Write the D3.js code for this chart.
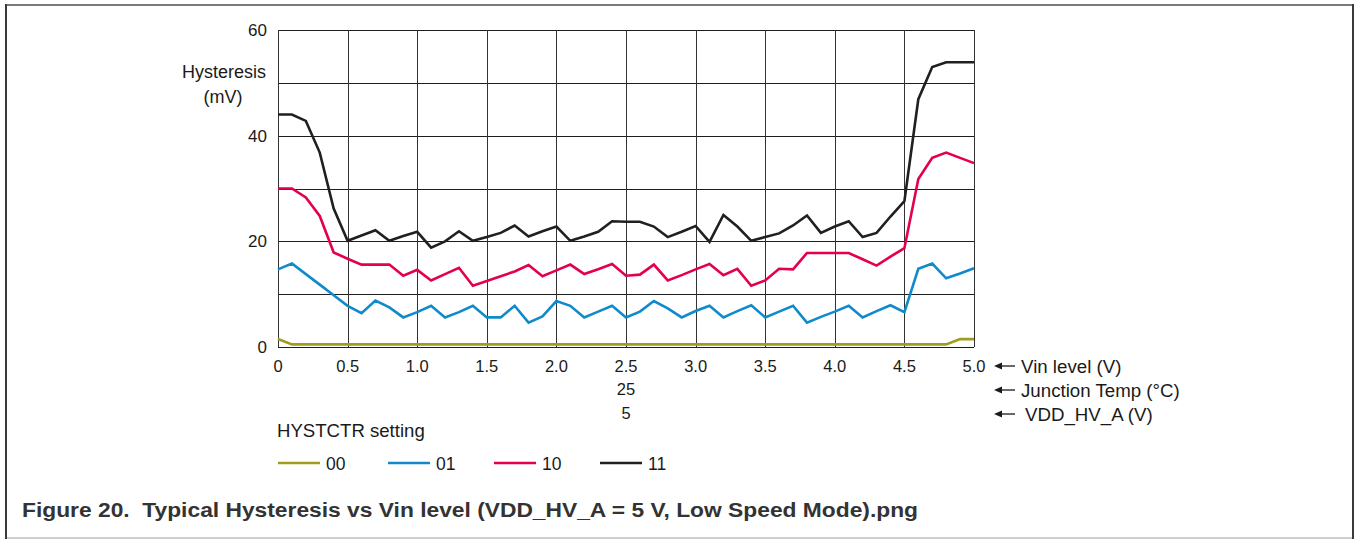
<!DOCTYPE html>
<html><head><meta charset="utf-8">
<script src="https://cdn.jsdelivr.net/npm/d3@7"></script>
<style>
html,body{margin:0;padding:0;background:#fff;}
svg{display:block;font-family:"Liberation Sans",Arial,sans-serif;}
text{white-space:pre;}
</style></head>
<body>
<svg id="c" width="1354" height="539"></svg>
<script>
const vin = d3.range(0, 51).map(i => +(i / 10).toFixed(1));
const xTicks = [0, 0.5, 1.0, 1.5, 2.0, 2.5, 3.0, 3.5, 4.0, 4.5, 5.0];
const xTickLabels = ["0", "0.5", "1.0", "1.5", "2.0", "2.5", "3.0", "3.5", "4.0", "4.5", "5.0"];
const yTicks = [0, 20, 40, 60];
const yGrid = [0, 10, 20, 30, 40, 50, 60];
const seriesNames = ["00", "01", "10", "11"];
const seriesColors = ["#a19c1b", "#0f8acb", "#e4004d", "#231f20"];
const hyst00 = [1.5, 0.5, 0.5, 0.5, 0.5, 0.5, 0.5, 0.5, 0.5, 0.5,
  0.5, 0.5, 0.5, 0.5, 0.5, 0.5, 0.5, 0.5, 0.5, 0.5,
  0.5, 0.5, 0.5, 0.5, 0.5, 0.5, 0.5, 0.5, 0.5, 0.5,
  0.5, 0.5, 0.5, 0.5, 0.5, 0.5, 0.5, 0.5, 0.5, 0.5,
  0.5, 0.5, 0.5, 0.5, 0.5, 0.5, 0.5, 0.5, 0.5, 1.5, 1.5];
const hyst01 = [14.7, 15.8, 13.8, 11.8, 9.8, 7.8, 6.4, 8.8, 7.5, 5.6,
  6.6, 7.8, 5.6, 6.6, 7.8, 5.6, 5.6, 7.8, 4.6, 5.8,
  8.7, 7.8, 5.6, 6.7, 7.8, 5.6, 6.7, 8.7, 7.3, 5.6,
  6.8, 7.8, 5.6, 6.8, 7.9, 5.6, 6.7, 7.8, 4.6, 5.7,
  6.7, 7.8, 5.6, 6.8, 7.9, 6.6, 14.8, 15.8, 13.0, 13.9, 14.9];
const hyst10 = [30, 30, 28.3, 24.8, 17.9, 16.7, 15.6, 15.6, 15.6, 13.5,
  14.6, 12.6, 13.8, 15.0, 11.6, 12.5, 13.4, 14.3, 15.5, 13.4,
  14.5, 15.6, 13.8, 14.7, 15.7, 13.5, 13.7, 15.6, 12.6, 13.6,
  14.7, 15.7, 13.6, 14.8, 11.6, 12.6, 14.8, 14.7, 17.8, 17.8,
  17.8, 17.8, 16.6, 15.4, 17.1, 18.7, 31.8, 35.8, 36.8, 35.8, 34.8];
const hyst11 = [44, 44, 42.8, 36.8, 26.2, 20.1, 21.1, 22.1, 20.1, 21.0,
  21.8, 18.8, 20.0, 21.9, 20.1, 20.8, 21.6, 23.0, 20.9, 21.9,
  22.8, 20.1, 20.9, 21.8, 23.8, 23.7, 23.7, 22.8, 20.8, 21.8,
  22.9, 19.9, 25.0, 22.8, 20.1, 20.8, 21.5, 23.0, 24.9, 21.6,
  22.8, 23.8, 20.8, 21.6, 24.7, 27.6, 46.9, 53.0, 53.9, 53.9, 53.9];
const seriesValues = [hyst00, hyst01, hyst10, hyst11];
const extraRows = [["25", "5"]];
const rightLabels = ["Vin level (V)", "Junction Temp (°C)", "VDD_HV_A (V)"];
const caption = "Figure 20.  Typical Hysteresis vs Vin level (VDD_HV_A = 5 V, Low Speed Mode).png";

const svg = d3.select("#c");
const L = 278, R = 974, T = 30, B = 347;
const x = d3.scaleLinear().domain([0, 5]).range([L, R]);
const y = d3.scaleLinear().domain([0, 60]).range([B, T]);
const INK = "#1a1a1a";

// frame
svg.append("rect").attr("x", 6).attr("y", 4).attr("width", 1346).attr("height", 2).attr("fill", "#7a7a7a");
svg.append("rect").attr("x", 6).attr("y", 537).attr("width", 1346).attr("height", 2).attr("fill", "#cfcfcf");
svg.append("rect").attr("x", 5).attr("y", 4).attr("width", 2).attr("height", 535).attr("fill", "#3a3a3a");
svg.append("rect").attr("x", 1352).attr("y", 4).attr("width", 2).attr("height", 535).attr("fill", "#3a3a3a");

// grid
const g = svg.append("g");
g.selectAll("line.h").data(yGrid).join("line")
  .attr("x1", L).attr("x2", R)
  .attr("y1", d => Math.round(y(d)) + 0.5).attr("y2", d => Math.round(y(d)) + 0.5)
  .attr("stroke", "#1e1e1e").attr("stroke-width", 1);
g.selectAll("line.v").data(xTicks).join("line")
  .attr("y1", T).attr("y2", B)
  .attr("x1", d => Math.round(x(d)) + 0.5).attr("x2", d => Math.round(x(d)) + 0.5)
  .attr("stroke", "#333").attr("stroke-width", 1);

// y labels
svg.selectAll("text.yt").data(yTicks).join("text")
  .attr("x", 267).attr("y", d => y(d)).attr("dy", "0.36em")
  .attr("text-anchor", "end").attr("font-size", 17).attr("fill", INK)
  .text(d => d);
svg.append("text").attr("x", 266).attr("y", 78).attr("text-anchor", "end")
  .attr("font-size", 18).attr("fill", INK).text("Hysteresis");
svg.append("text").attr("x", 223).attr("y", 103).attr("text-anchor", "middle")
  .attr("font-size", 18).attr("fill", INK).text("(mV)");

// x labels
svg.selectAll("text.xt").data(xTicks).join("text")
  .attr("x", d => x(d)).attr("y", 372).attr("text-anchor", "middle")
  .attr("font-size", 16.5).attr("fill", INK)
  .text((d, i) => xTickLabels[i]);
svg.append("text").attr("x", x(2.5)).attr("y", 395).attr("text-anchor", "middle")
  .attr("font-size", 16.5).attr("fill", INK).text(extraRows[0][0]);
svg.append("text").attr("x", x(2.5)).attr("y", 419).attr("text-anchor", "middle")
  .attr("font-size", 16.5).attr("fill", INK).text(extraRows[0][1]);

// right arrows + labels
const rowsY = [366, 390, 414];
rowsY.forEach((yy, i) => {
  svg.append("line").attr("x1", 1000).attr("x2", 1015).attr("y1", yy).attr("y2", yy)
    .attr("stroke", INK).attr("stroke-width", 1.3);
  svg.append("path").attr("d", `M994,${yy} L1002,${yy - 3.5} L1002,${yy + 3.5} Z`).attr("fill", INK);
  svg.append("text").attr("x", i === 2 ? 1025 : 1021).attr("y", yy + 6.5)
    .attr("font-size", 18.7).attr("fill", INK).text(rightLabels[i]);
});

// lines
const line = d3.line().x((d, i) => x(vin[i])).y(d => y(d));
svg.selectAll("path.s").data(seriesValues).join("path")
  .attr("d", d => line(d)).attr("fill", "none")
  .attr("stroke", (d, i) => seriesColors[i]).attr("stroke-width", 2.6)
  .attr("stroke-linejoin", "miter");

// legend
svg.append("text").attr("x", 277).attr("y", 437).attr("font-size", 18.6).attr("fill", INK)
  .text("HYSTCTR setting");
const legX = [278, 388, 494, 600];
seriesNames.forEach((n, i) => {
  svg.append("line").attr("x1", legX[i]).attr("x2", legX[i] + 42).attr("y1", 463).attr("y2", 463)
    .attr("stroke", seriesColors[i]).attr("stroke-width", 2.6);
  svg.append("text").attr("x", legX[i] + 48).attr("y", 469.5).attr("font-size", 17.5).attr("fill", INK).text(n);
});

// caption
svg.append("text").attr("x", 22).attr("y", 517).attr("font-size", 20).attr("font-weight", "bold")
  .attr("fill", "#333").text(caption)
  .attr("textLength", 896).attr("lengthAdjust", "spacingAndGlyphs");
</script>
</body></html>
